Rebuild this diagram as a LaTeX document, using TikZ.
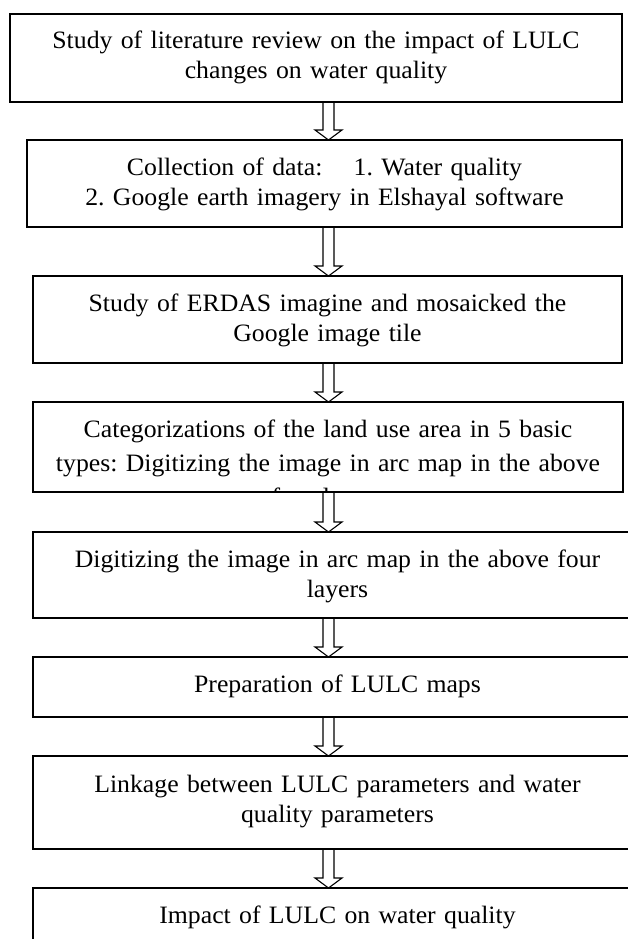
\documentclass[tikz,border=0pt]{standalone}
\usepackage{fontspec}
\setmainfont{Liberation Serif}[FakeStretch=1.03]
\usetikzlibrary{calc}
\frenchspacing
\newcommand\hollowarrow[2]{%
  \draw[arrowline]
    ($(#1.south -| ax)+(-5.5,0)$) -- ($(#2.north -| ax)+(-5.5,-10)$)
    -- ($(#2.north -| ax)+(-13.5,-10)$) -- (#2.north -| ax)
    -- ($(#2.north -| ax)+(13.5,-10)$) -- ($(#2.north -| ax)+(5.5,-10)$)
    -- ($(#1.south -| ax)+(5.5,0)$);}
\begin{document}
\begin{tikzpicture}[x=1pt,y=-1pt,
  box/.style={draw, line width=1.4pt, rectangle, anchor=north west, inner sep=0pt, outer sep=0pt},
  txt/.style={anchor=base, align=center, inner sep=0pt, font=\fontsize{25}{30}\selectfont},
  arrowline/.style={line width=1.1pt, line join=miter}]
\useasboundingbox (0,0) rectangle (628,939);
\coordinate (ax) at (328.5,0);
% boxes
\node[box, minimum width=612pt, minimum height=88pt] (b1) at (10,14) {};
\node[box, minimum width=595pt, minimum height=87pt] (b2) at (27,140) {};
\node[box, minimum width=589pt, minimum height=87pt] (b3) at (33,276) {};
\node[box, minimum width=590pt, minimum height=90pt] (b4) at (33,402) {};
\node[box, minimum width=609pt, minimum height=86pt] (b5) at (33,532) {};
\node[box, minimum width=609pt, minimum height=60pt] (b6) at (33,657) {};
\node[box, minimum width=609pt, minimum height=93pt] (b7) at (33,756) {};
\node[box, minimum width=609pt, minimum height=92pt] (b8) at (33,888) {};
% texts
\node[txt, text width=604pt] (t1) at ($(b1.north)+(0,35)$) {Study of literature review on the impact of LULC\\changes on water quality};
\node[txt, text width=590pt] (t2) at ($(b2.north)+(0,35)$) {Collection of data:\hspace{23pt} 1. Water quality\\2. Google earth imagery in Elshayal software};
\node[txt, text width=584pt] (t3) at ($(b3.north)+(0,35)$) {Study of ERDAS imagine and mosaicked the\\Google image tile};
\begin{scope}
\clip (b4.north west) rectangle (b4.south east);
\node[txt, text width=586pt, font=\fontsize{25}{34}\selectfont] (t4) at ($(b4.north)+(0,35)$) {Categorizations of the land use area in 5 basic\\types: Digitizing the image in arc map in the above\\four layers};
\end{scope}
\node[txt, text width=604pt] (t5) at ($(b5.north)+(0,35)$) {Digitizing the image in arc map in the above four\\layers};
\node[txt, text width=604pt] (t6) at ($(b6.north)+(0,35)$) {Preparation of LULC maps};
\node[txt, text width=604pt] (t7) at ($(b7.north)+(0,36)$) {Linkage between LULC parameters and water\\quality parameters};
\node[txt, text width=604pt] (t8) at ($(b8.north)+(0,35)$) {Impact of LULC on water quality};
% arrows
\hollowarrow{b1}{b2}
\hollowarrow{b2}{b3}
\hollowarrow{b3}{b4}
\hollowarrow{b4}{b5}
\hollowarrow{b5}{b6}
\hollowarrow{b6}{b7}
\hollowarrow{b7}{b8}
\end{tikzpicture}
\end{document}
